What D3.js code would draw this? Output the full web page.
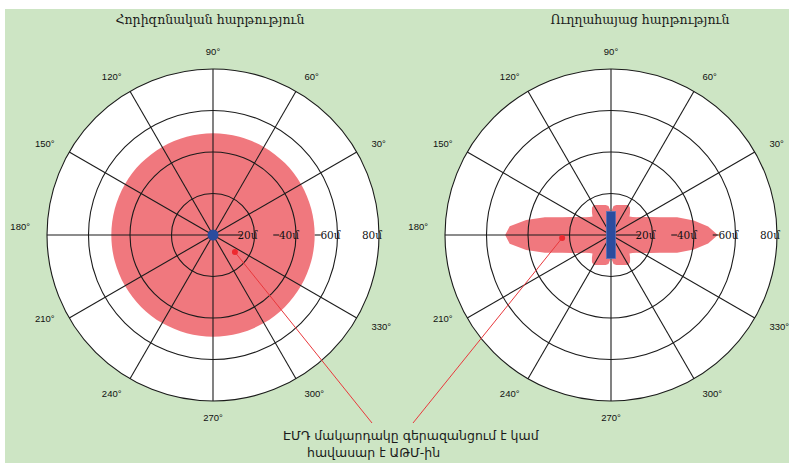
<!DOCTYPE html>
<html>
<head>
<meta charset="utf-8">
<script src="https://cdn.jsdelivr.net/npm/d3@7"></script>
<style>
  html, body { margin: 0; padding: 0; background: #ffffff; }
  svg { display: block; }
</style>
</head>
<body>
<svg id="chart" width="789" height="463"></svg>
<script>
// ---- data ----
const titles = ["Հորիզոնական հարթություն", "Ուղղահայաց հարթություն"];

const ringValues = [20, 40, 60, 80];
const ringLabels = ["20մ", "40մ", "60մ", "80մ"];

const spokeAngles = [0, 30, 60, 90, 120, 150, 180, 210, 240, 270, 300, 330];
const angleTickValues = [30, 60, 90, 120, 150, 180, 210, 240, 270, 300, 330];
const angleTickLabels = ["30°", "60°", "90°", "120°", "150°", "180°", "210°", "240°", "270°", "300°", "330°"];

// horizontal-plane radiation pattern (metres)
const horizAngles = [0, 15, 30, 45, 60, 75, 90, 105, 120, 135, 150, 165,
                     180, 195, 210, 225, 240, 255, 270, 285, 300, 315, 330, 345];
const horizLevel  = [49, 49, 49, 49, 49, 49, 49, 49, 49, 49, 49, 49,
                     49, 49, 49, 49, 49, 49, 49, 49, 49, 49, 49, 49];

// vertical-plane radiation pattern (metres)
const vertAngles = [
    0,   5,  10,  15,  20,  25,  30,  35,  40,  45,  50,  55,  60,  65,  70,  75,  80,  85,
   90,  95, 100, 105, 110, 115, 120, 125, 130, 135, 140, 145, 150, 155, 160, 165, 170, 175,
  180, 185, 190, 195, 200, 205, 210, 215, 220, 225, 230, 235, 240, 245, 250, 255, 260, 265,
  270, 275, 280, 285, 290, 295, 300, 305, 310, 315, 320, 325, 330, 335, 340, 345, 350, 355];
const vertLevel = [
  51.5, 47.0, 40.5, 33.0, 25.0, 20.5, 17.3, 15.0, 13.5, 12.6, 14.3, 16.0, 16.7, 16.0, 15.4, 15.0, 14.7, 14.0,
  11.0, 14.0, 14.7, 15.0, 15.4, 16.0, 16.7, 16.0, 14.3, 12.6, 13.5, 15.0, 17.3, 20.5, 25.0, 33.0, 41.5, 49.0,
  51.0, 49.0, 41.5, 33.0, 25.0, 20.5, 17.3, 15.0, 13.5, 12.6, 14.3, 16.0, 16.7, 16.0, 15.4, 15.0, 14.7, 14.0,
  11.0, 14.0, 14.7, 15.0, 15.4, 16.0, 16.7, 16.0, 14.3, 12.6, 13.5, 15.0, 17.3, 20.5, 25.0, 33.0, 40.5, 47.0];

// antenna mast in the vertical plane: vertical extent and half width (metres)
const antennaSpan = [-11.3, 11.3];
const antennaHalfWidth = 2.2;

// points where the field level reaches the permissible limit
const limitPlane  = [0, 1];
const limitAngle  = [322, 183.5];
const limitRadius = [13.4, 23.6];

const noteLines = ["ԷՄԴ մակարդակը գերազանցում է կամ", "հավասար է ԱԹՄ-ին"];

// ---- layout ----
const W = 789, H = 463;
const R = 166;
const centers = [[213, 235], [611, 235]];
const titleX = [210, 640];

const svg = d3.select("#chart");
svg.append("rect").attr("x", 5).attr("y", 9).attr("width", W - 5).attr("height", H - 9)
   .attr("fill", "#cde5c4");

const rScale = d3.scaleLinear().domain([0, 80]).range([0, R]);
const rad = a => a * Math.PI / 180;
const polar = (a, r) => [r * Math.cos(rad(a)), -r * Math.sin(rad(a))];

const patternLine = d3.lineRadial()
  .angle(d => rad(90 - d[0]))
  .radius(d => rScale(d[1]));

const patterns = [
  { data: d3.zip(horizAngles, horizLevel), curve: d3.curveCatmullRomClosed },
  { data: d3.zip(vertAngles, vertLevel), curve: d3.curveLinearClosed }
];

const gridColor = "#1b1b1b";
const fillColor = "#f0787e";
const blue = "#2b4c9e";

centers.forEach(([cx, cy], p) => {
  svg.append("text")
    .attr("x", titleX[p]).attr("y", 24)
    .attr("text-anchor", "middle")
    .attr("font-family", "'DejaVu Serif', serif")
    .attr("font-size", 12.5)
    .attr("fill", "#1a1a1a")
    .text(titles[p]);

  const g = svg.append("g").attr("transform", `translate(${cx},${cy})`);

  g.append("circle").attr("r", R).attr("fill", "#ffffff");

  g.append("path")
    .attr("d", patternLine.curve(patterns[p].curve)(patterns[p].data))
    .attr("fill", fillColor);

  // rings
  g.selectAll("circle.ring").data(ringValues).join("circle")
    .attr("class", "ring")
    .attr("r", d => rScale(d))
    .attr("fill", "none")
    .attr("stroke", gridColor)
    .attr("stroke-width", 1.1);

  // spokes (the 0° spoke carries the distance labels)
  spokeAngles.forEach(a => {
    const end = a === 0 ? rScale(14) : R;
    const [x2, y2] = polar(a, end);
    g.append("line").attr("x1", 0).attr("y1", 0).attr("x2", x2).attr("y2", y2)
      .attr("stroke", gridColor).attr("stroke-width", 1.1);
  });

  // dashes between distance labels on the 0° spoke
  d3.pairs(ringValues.slice(0, 3)).forEach(([a, b]) => {
    const m = (rScale(a) + rScale(b)) / 2 + 1;
    g.append("line").attr("x1", m - 3).attr("x2", m + 3).attr("y1", 0).attr("y2", 0)
      .attr("stroke", gridColor).attr("stroke-width", 1.1);
  });

  g.selectAll("text.ringlab").data(ringValues).join("text")
    .attr("class", "ringlab")
    .attr("x", d => rScale(d) + 3)
    .attr("y", 4)
    .attr("text-anchor", "end")
    .attr("font-family", "'DejaVu Serif', serif")
    .attr("font-size", 10.5)
    .attr("fill", "#111")
    .text((d, i) => ringLabels[i]);

  // angle labels
  angleTickValues.forEach((a, i) => {
    const [x, y] = polar(a, R + 17);
    const c = Math.cos(rad(a));
    const anchor = c > 0.1 ? "start" : (c < -0.1 ? "end" : "middle");
    const nudge = (a === 180 || a === 210) ? -8 : 0;
    g.append("text")
      .attr("x", x).attr("y", y + nudge)
      .attr("dy", "0.35em")
      .attr("text-anchor", anchor)
      .attr("font-family", "'Liberation Sans', Arial, sans-serif")
      .attr("font-size", 9.5)
      .attr("fill", "#111")
      .text(angleTickLabels[i]);
  });

  // antenna
  if (p === 0) {
    g.append("circle").attr("r", 5.5).attr("fill", blue);
  } else {
    g.append("rect")
      .attr("x", -rScale(antennaHalfWidth))
      .attr("y", -rScale(antennaSpan[1]))
      .attr("width", 2 * rScale(antennaHalfWidth))
      .attr("height", rScale(antennaSpan[1]) - rScale(antennaSpan[0]))
      .attr("fill", blue)
      .attr("stroke", "#5a74bb")
      .attr("stroke-width", 0.8);
  }
});

// limit points and leader lines to the note
const noteAnchors = [[372, 423], [413, 423]];
limitPlane.forEach((p, i) => {
  const [cx, cy] = centers[p];
  const [dx, dy] = polar(limitAngle[i], rScale(limitRadius[i]));
  svg.append("line")
    .attr("x1", cx + dx).attr("y1", cy + dy)
    .attr("x2", noteAnchors[i][0]).attr("y2", noteAnchors[i][1])
    .attr("stroke", "#e8383c").attr("stroke-width", 1);
  svg.append("circle")
    .attr("cx", cx + dx).attr("cy", cy + dy).attr("r", 3)
    .attr("fill", "#ee2a30");
});

svg.append("text").attr("x", 283).attr("y", 440)
  .attr("font-family", "'DejaVu Sans', sans-serif").attr("font-size", 12.5).attr("fill", "#1a1a1a")
  .text(noteLines[0]);
svg.append("text").attr("x", 307).attr("y", 457)
  .attr("font-family", "'DejaVu Sans', sans-serif").attr("font-size", 12.5).attr("fill", "#1a1a1a")
  .text(noteLines[1]);
</script>
</body>
</html>
